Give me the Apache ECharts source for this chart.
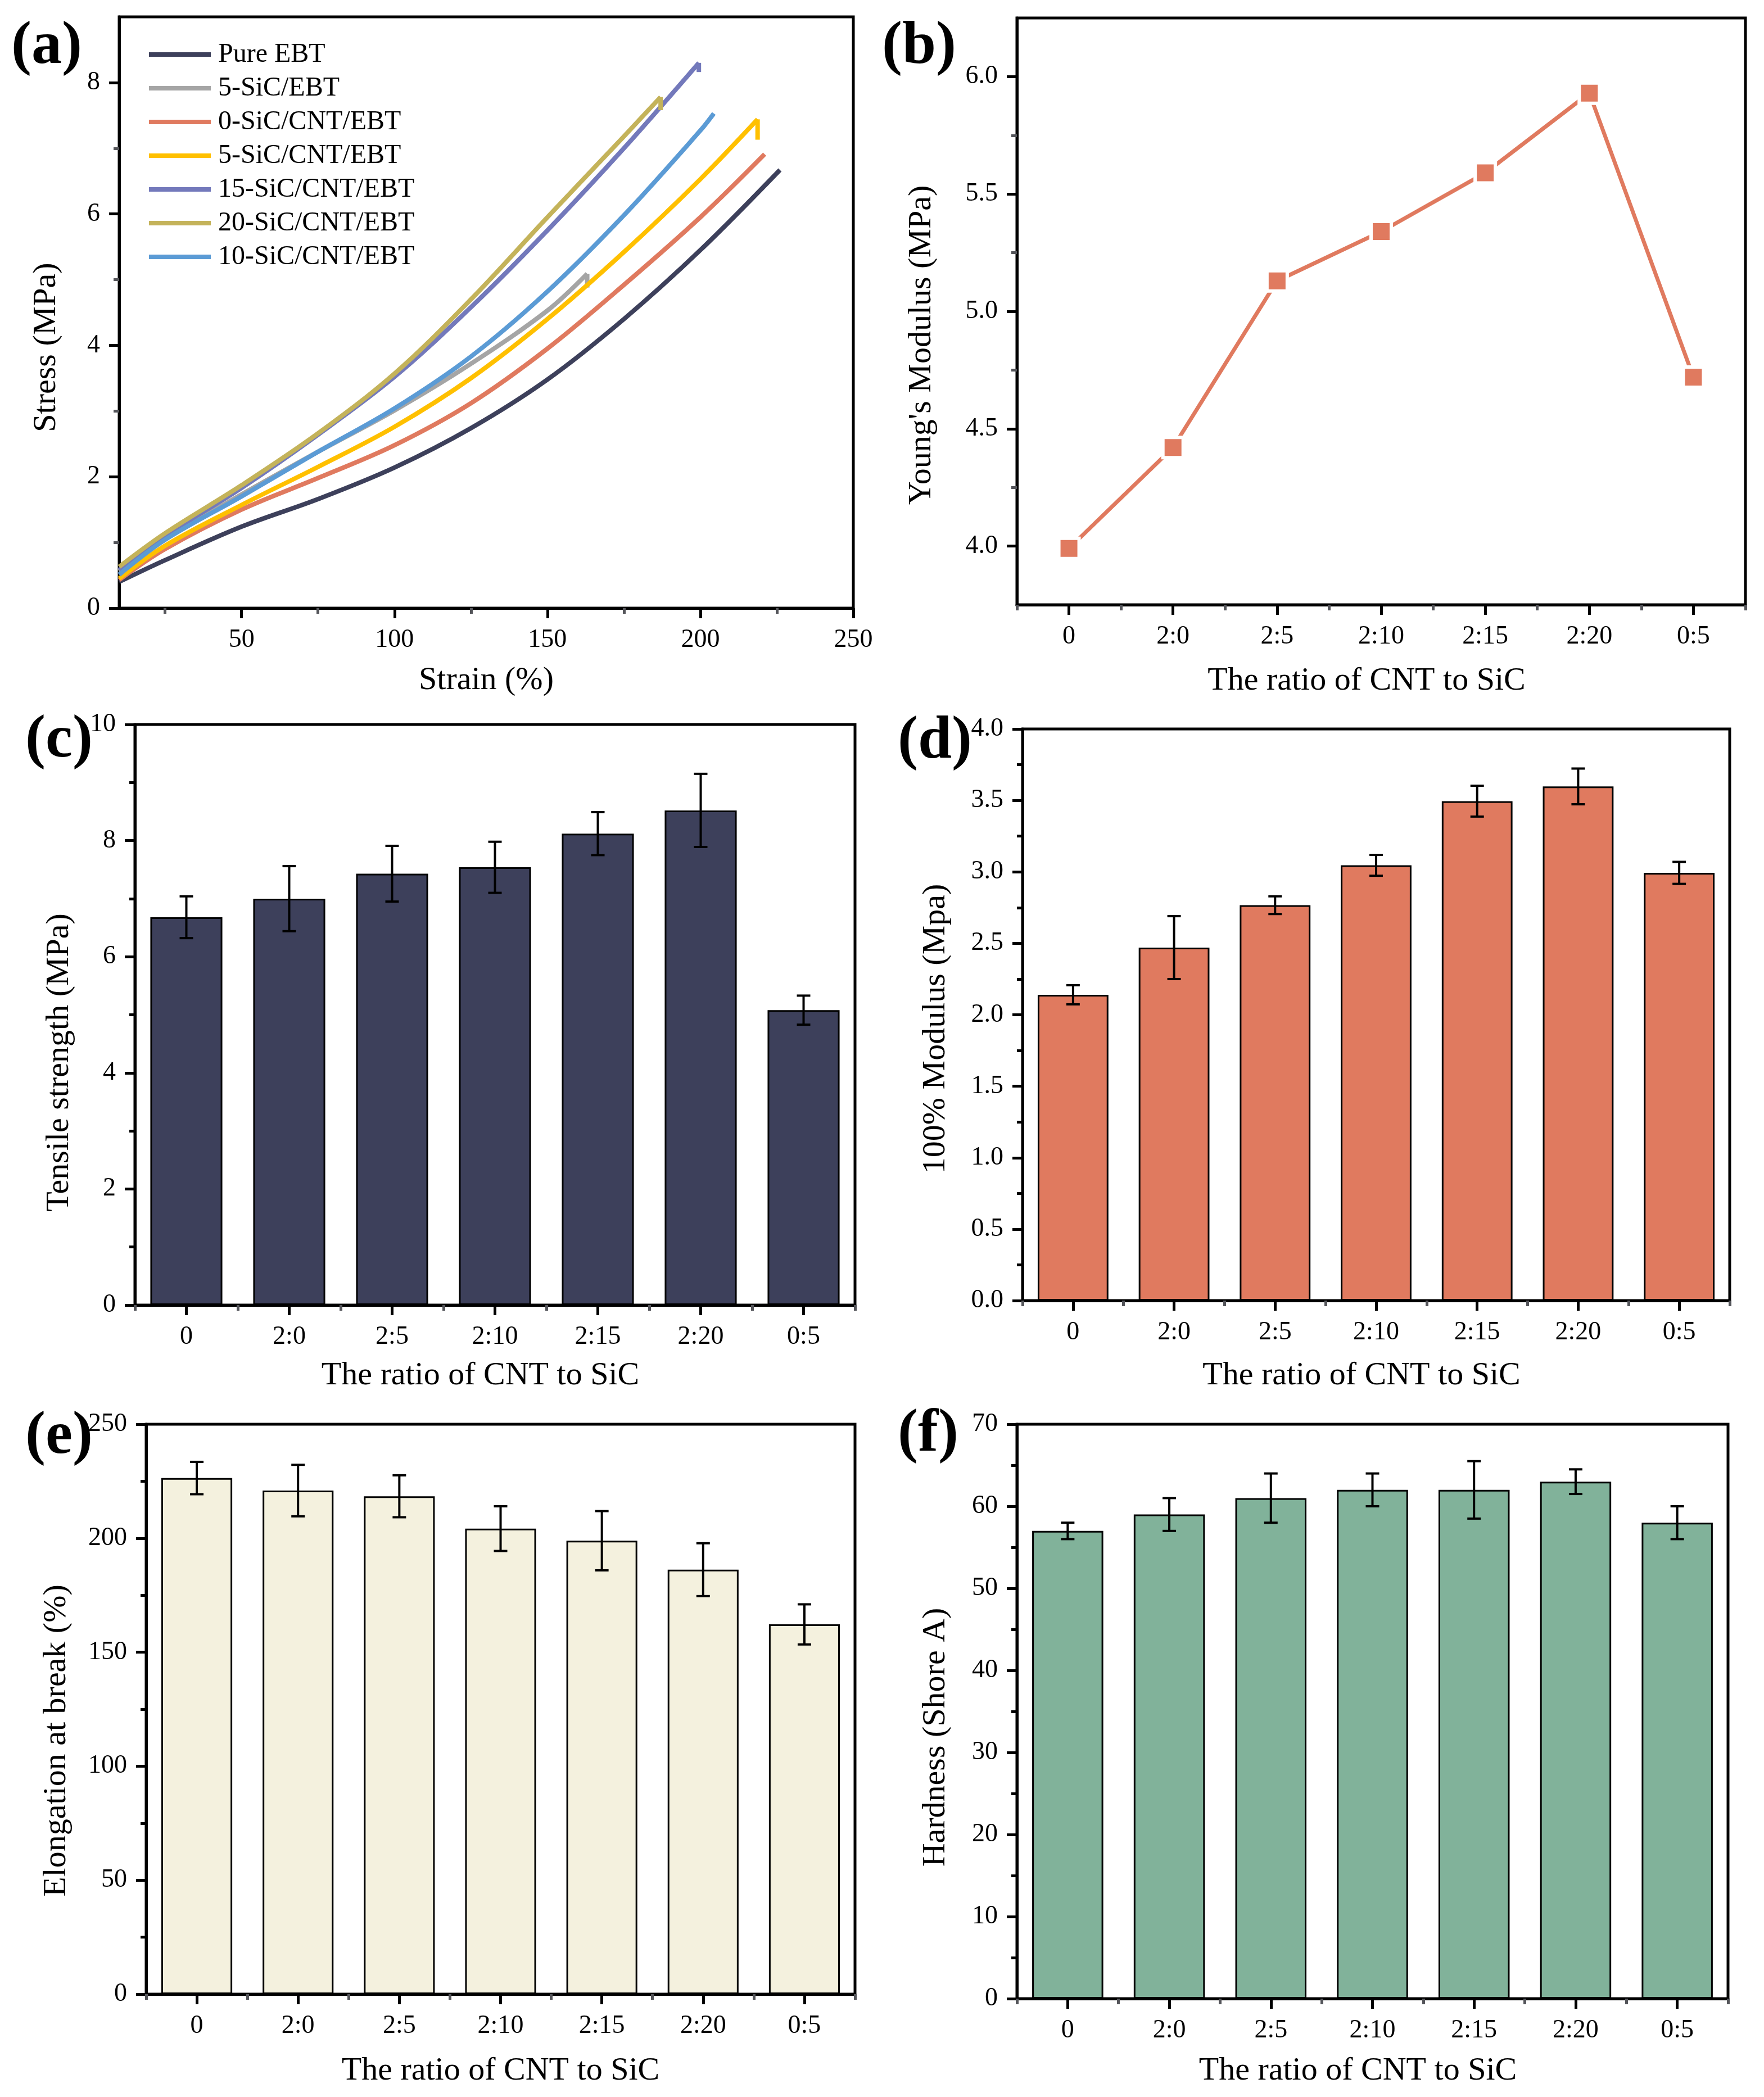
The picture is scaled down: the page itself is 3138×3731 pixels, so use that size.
<!DOCTYPE html>
<html>
<head>
<meta charset="utf-8">
<script src="https://cdn.jsdelivr.net/npm/echarts@6/dist/echarts.min.js"></script>
<style>
html,body{margin:0;padding:0;background:#fff;}
#c{width:3138px;height:3731px;}
</style>
</head>
<body>
<div id="c"></div>
<script>
// ---------- data ----------
const curveNames = ['Pure EBT','5-SiC/EBT','0-SiC/CNT/EBT','5-SiC/CNT/EBT','15-SiC/CNT/EBT','20-SiC/CNT/EBT','10-SiC/CNT/EBT'];
const curveColors = ['#3D405B','#A5A5A5','#E07A5F','#FFC000','#7379BB','#C4B35A','#5B9BD5'];
// stress-strain curves [strain %, stress MPa]
const pureEBT  = [[10,0.40],[25,0.73],[50,1.24],[75,1.66],[100,2.14],[125,2.74],[150,3.48],[175,4.40],[200,5.45],[226,6.67]];
const sic5EBT  = [[10,0.56],[25,1.05],[50,1.73],[75,2.38],[100,3.01],[125,3.72],[150,4.53],[163,5.09]];
const sic0CNT  = [[10,0.43],[25,0.90],[50,1.50],[75,1.98],[100,2.48],[125,3.12],[150,3.95],[175,4.92],[200,5.95],[221,6.91]];
const sic5CNT  = [[10,0.45],[25,0.95],[50,1.57],[75,2.15],[100,2.76],[125,3.50],[150,4.40],[175,5.42],[200,6.53],[218.7,7.44]];
const sic15CNT = [[10,0.58],[25,1.10],[50,1.83],[75,2.64],[100,3.52],[125,4.58],[150,5.75],[175,7.00],[199.5,8.30]];
const sic20CNT = [[10,0.63],[25,1.14],[50,1.87],[75,2.66],[100,3.57],[125,4.70],[150,5.95],[175,7.18],[187,7.78]];
const sic10CNT = [[10,0.51],[25,1.04],[50,1.70],[75,2.38],[100,3.04],[125,3.83],[150,4.82],[175,5.98],[200,7.27],[204.4,7.53]];
// short drop at the break point
const pureEBTBreak  = [];
const sic5EBTBreak  = [[163,5.09],[163,4.88]];
const sic0CNTBreak  = [];
const sic5CNTBreak  = [[218.7,7.44],[218.7,7.13]];
const sic15CNTBreak = [[199.5,8.30],[199.5,8.16]];
const sic20CNTBreak = [[187,7.78],[187,7.58]];
const sic10CNTBreak = [];
const curves = [pureEBT, sic5EBT, sic0CNT, sic5CNT, sic15CNT, sic20CNT, sic10CNT];
const breaks = [pureEBTBreak, sic5EBTBreak, sic0CNTBreak, sic5CNTBreak, sic15CNTBreak, sic20CNTBreak, sic10CNTBreak];
const strainLabels = [50,100,150,200,250];
const strainMinor = [25,75,125,175,225];
const stressLabels = [0,2,4,6,8];
const stressMinor = [1,3,5,7];

const ratios = ['0','2:0','2:5','2:10','2:15','2:20','0:5'];
const youngModulus = [3.99,4.42,5.13,5.34,5.59,5.93,4.72];
const youngLabels = [4.0,4.5,5.0,5.5,6.0];
const youngMinor = [4.25,4.75,5.25,5.75];

const tensileMean = [6.68,7.00,7.43,7.54,8.12,8.52,5.08];
const tensileErr  = [0.36,0.56,0.48,0.44,0.37,0.63,0.25];
const modulusMean = [2.14,2.47,2.767,3.046,3.495,3.598,2.993];
const modulusErr  = [0.067,0.22,0.062,0.073,0.108,0.125,0.077];
const elongMean = [226.4,220.9,218.4,204.2,198.9,186.2,162.2];
const elongErr  = [7.1,11.3,9.2,9.8,13.0,11.6,8.8];
const hardMean = [57,59,61,62,62,63,58];
const hardErr  = [1,2,3,2,3.5,1.5,2];

// ---------- styles ----------
const FONT = 'Liberation Serif';
const TICK_FS = 46, NAME_FS = 58;
const AXW = 5;

const grids = [
  {left:212, top:30,   width:1306, height:1052},
  {left:1809,top:32,   width:1296, height:1044},
  {left:240, top:1289, width:1281, height:1033},
  {left:1819,top:1297, width:1258, height:1017},
  {left:260, top:2534, width:1261, height:1014},
  {left:1809,top:2534, width:1265, height:1022}
].map(g => Object.assign({show:true, borderColor:'#000', borderWidth:AXW, backgroundColor:'transparent', outerBoundsMode:'none', containLabel:false}, g));

function lbl(extra){ return Object.assign({color:'#000', fontFamily:FONT, fontSize:TICK_FS, margin:30}, extra||{}); }
function nm(pad){ return {color:'#000', fontFamily:FONT, fontSize:NAME_FS, padding:pad||0}; }
const axLine = {show:true, onZero:false, lineStyle:{color:'#000', width:AXW}};

const xAxes = [], yAxes = [];
// (a)
xAxes.push({type:'value', gridIndex:0, position:'bottom', min:10, max:250, axisLine:axLine, splitLine:{show:false},
  axisTick:{show:true, length:18, lineStyle:{width:AXW}, customValues:strainLabels},
  axisLabel:lbl({customValues:strainLabels, margin:34}),
  name:'Strain (%)', nameLocation:'middle', nameGap:100, nameTextStyle:nm()});
xAxes.push({type:'value', gridIndex:0, position:'bottom', min:10, max:250, axisLine:{show:false}, splitLine:{show:false},
  axisTick:{show:true, length:10, lineStyle:{width:AXW}, customValues:strainMinor}, axisLabel:{show:false}});
yAxes.push({type:'value', gridIndex:0, position:'left', min:0, max:9, axisLine:axLine, splitLine:{show:false},
  axisTick:{show:true, length:18, lineStyle:{width:AXW}, customValues:stressLabels},
  axisLabel:lbl({customValues:stressLabels, margin:34}),
  name:'Stress (MPa)', nameLocation:'middle', nameGap:100, nameTextStyle:nm([0,124,0,0])});
yAxes.push({type:'value', gridIndex:0, position:'left', min:0, max:9, axisLine:{show:false}, splitLine:{show:false},
  axisTick:{show:true, length:10, lineStyle:{width:AXW}, customValues:stressMinor}, axisLabel:{show:false}});

// category x axes for panels b..f
const xGaps = [107, 97, 105, 108, 100];
const xPads = [[0,52,0,0],[0,52,0,0],[0,52,0,0],0,[0,52,0,0]];
for (let g = 1; g <= 5; g++) {
  xAxes.push({type:'category', gridIndex:g, position:'bottom', data:ratios, axisLine:axLine, splitLine:{show:false},
    axisTick:{show:true, alignWithLabel:true, length:18, lineStyle:{width:AXW}},
    axisLabel:lbl({margin:34}),
    name:'The ratio of CNT to SiC', nameLocation:'middle', nameGap:xGaps[g-1], nameTextStyle:nm(xPads[g-1])});
  xAxes.push({type:'category', gridIndex:g, position:'bottom', data:ratios, axisLine:{show:false}, splitLine:{show:false},
    axisTick:{show:true, length:10, lineStyle:{width:AXW}}, axisLabel:{show:false}});
}
// (b)
yAxes.push({type:'value', gridIndex:1, position:'left', min:3.75, max:6.25, axisLine:axLine, splitLine:{show:false},
  axisTick:{show:true, length:18, lineStyle:{width:AXW}, customValues:youngLabels},
  axisLabel:lbl({customValues:youngLabels, margin:34, formatter:v=>v.toFixed(1)}),
  name:"Young's Modulus (MPa)", nameLocation:'middle', nameGap:140, nameTextStyle:nm([0,120,0,0])});
yAxes.push({type:'value', gridIndex:1, position:'left', min:3.75, max:6.25, axisLine:{show:false}, splitLine:{show:false},
  axisTick:{show:true, length:10, lineStyle:{width:AXW}, customValues:youngMinor}, axisLabel:{show:false}});
// (c)-(f)
function barY(gi, min, max, interval, name, gap, fmt, pad){
  return {type:'value', gridIndex:gi, position:'left', min:min, max:max, interval:interval, axisLine:axLine, splitLine:{show:false},
    axisTick:{show:true, length:18, lineStyle:{width:AXW}},
    minorTick:{show:true, splitNumber:2, length:10, lineStyle:{width:AXW, color:'#000'}},
    axisLabel:lbl({margin:34, formatter:fmt}),
    name:name, nameLocation:'middle', nameGap:gap, nameTextStyle:nm(pad)};
}
yAxes.push(barY(2, 0, 10, 2, 'Tensile strength (MPa)', 105, v=>String(v), [0,170,0,0]));       // yAxis 4
yAxes.push(barY(3, 0, 4, 0.5, '100% Modulus (Mpa)', 125, v=>v.toFixed(1), [0,50,0,0]));        // yAxis 5
yAxes.push(barY(4, 0, 250, 50, 'Elongation at break (%)', 130, v=>String(v), [0,112,0,0]));     // yAxis 6
yAxes.push(barY(5, 0, 70, 10, 'Hardness (Shore A)', 115, v=>String(v), [0,92,0,0]));            // yAxis 7

const series = [];
curves.forEach((d, i) => {
  series.push({type:'line', name:curveNames[i], xAxisIndex:0, yAxisIndex:0, data:d, showSymbol:false, symbol:'none',
    smooth:0.35, clip:true, color:curveColors[i],
    lineStyle:{width:8, color:curveColors[i], cap:'butt', join:'round'}, z:2+i});
  if (breaks[i].length) {
    series.push({type:'line', name:curveNames[i], xAxisIndex:0, yAxisIndex:0, data:breaks[i], showSymbol:false, symbol:'none',
      smooth:false, clip:true, color:curveColors[i],
      lineStyle:{width:8, color:curveColors[i], cap:'butt', join:'round'}, z:2+i});
  }
});
series.push({type:'line', xAxisIndex:2, yAxisIndex:2, data:youngModulus, color:'#E07A5F',
  symbol:'rect', symbolSize:36, showAllSymbol:true,
  lineStyle:{width:7, color:'#E07A5F'}, itemStyle:{color:'#E07A5F', borderColor:'#fff', borderWidth:6}, z:3});

function errSeries(xi, yi, mean, err){
  return {type:'custom', xAxisIndex:xi, yAxisIndex:yi, z:5,
    data: mean.map((m,i)=>[i, m-err[i], m+err[i]]),
    encode:{x:0, y:[1,2]},
    renderItem:function(params, api){
      const x = api.value(0);
      const lo = api.coord([x, api.value(1)]);
      const hi = api.coord([x, api.value(2)]);
      const hw = 12;
      const st = {stroke:'#000', lineWidth:4};
      return {type:'group', children:[
        {type:'line', shape:{x1:lo[0], y1:lo[1], x2:hi[0], y2:hi[1]}, style:st},
        {type:'line', shape:{x1:lo[0]-hw, y1:lo[1], x2:lo[0]+hw, y2:lo[1]}, style:st},
        {type:'line', shape:{x1:hi[0]-hw, y1:hi[1], x2:hi[0]+hw, y2:hi[1]}, style:st}
      ]};
    }};
}
function barSeries(xi, yi, mean, color){
  return {type:'bar', xAxisIndex:xi, yAxisIndex:yi, data:mean, barWidth:'70%', z:2,
    itemStyle:{color:color, borderColor:'#000', borderWidth:3}};
}
series.push(barSeries(4, 4, tensileMean, '#3D405B'));
series.push(errSeries(4, 4, tensileMean, tensileErr));
series.push(barSeries(6, 5, modulusMean, '#E07A5F'));
series.push(errSeries(6, 5, modulusMean, modulusErr));
series.push(barSeries(8, 6, elongMean, '#F4F1DE'));
series.push(errSeries(8, 6, elongMean, elongErr));
series.push(barSeries(10, 7, hardMean, '#81B29A'));
series.push(errSeries(10, 7, hardMean, hardErr));

const panelLabels = [
  {t:'(a)', x:20,   y:88},
  {t:'(b)', x:1569, y:88},
  {t:'(c)', x:45,   y:1322},
  {t:'(d)', x:1597, y:1324},
  {t:'(e)', x:45,   y:2561},
  {t:'(f)', x:1597, y:2557}
];

const option = {
  animation:false,
  backgroundColor:'#fff',
  textStyle:{fontFamily:FONT, color:'#000'},
  grid:grids,
  xAxis:xAxes,
  yAxis:yAxes,
  legend:{
    data:curveNames, orient:'vertical', left:260, top:68, itemWidth:110, itemHeight:8, itemGap:12,
    icon:'rect', selectedMode:false,
    textStyle:{fontFamily:FONT, fontSize:48, color:'#000', padding:[0,0,0,8]}
  },
  graphic: panelLabels.map(p => ({type:'text', left:p.x, top:p.y - 58,
    style:{text:p.t, fontFamily:FONT, fontSize:108, fontWeight:'bold', fill:'#000'}})),
  series:series
};

const chart = echarts.init(document.getElementById('c'), null, {renderer:'canvas', width:3138, height:3731});
chart.setOption(option);
</script>
</body>
</html>
